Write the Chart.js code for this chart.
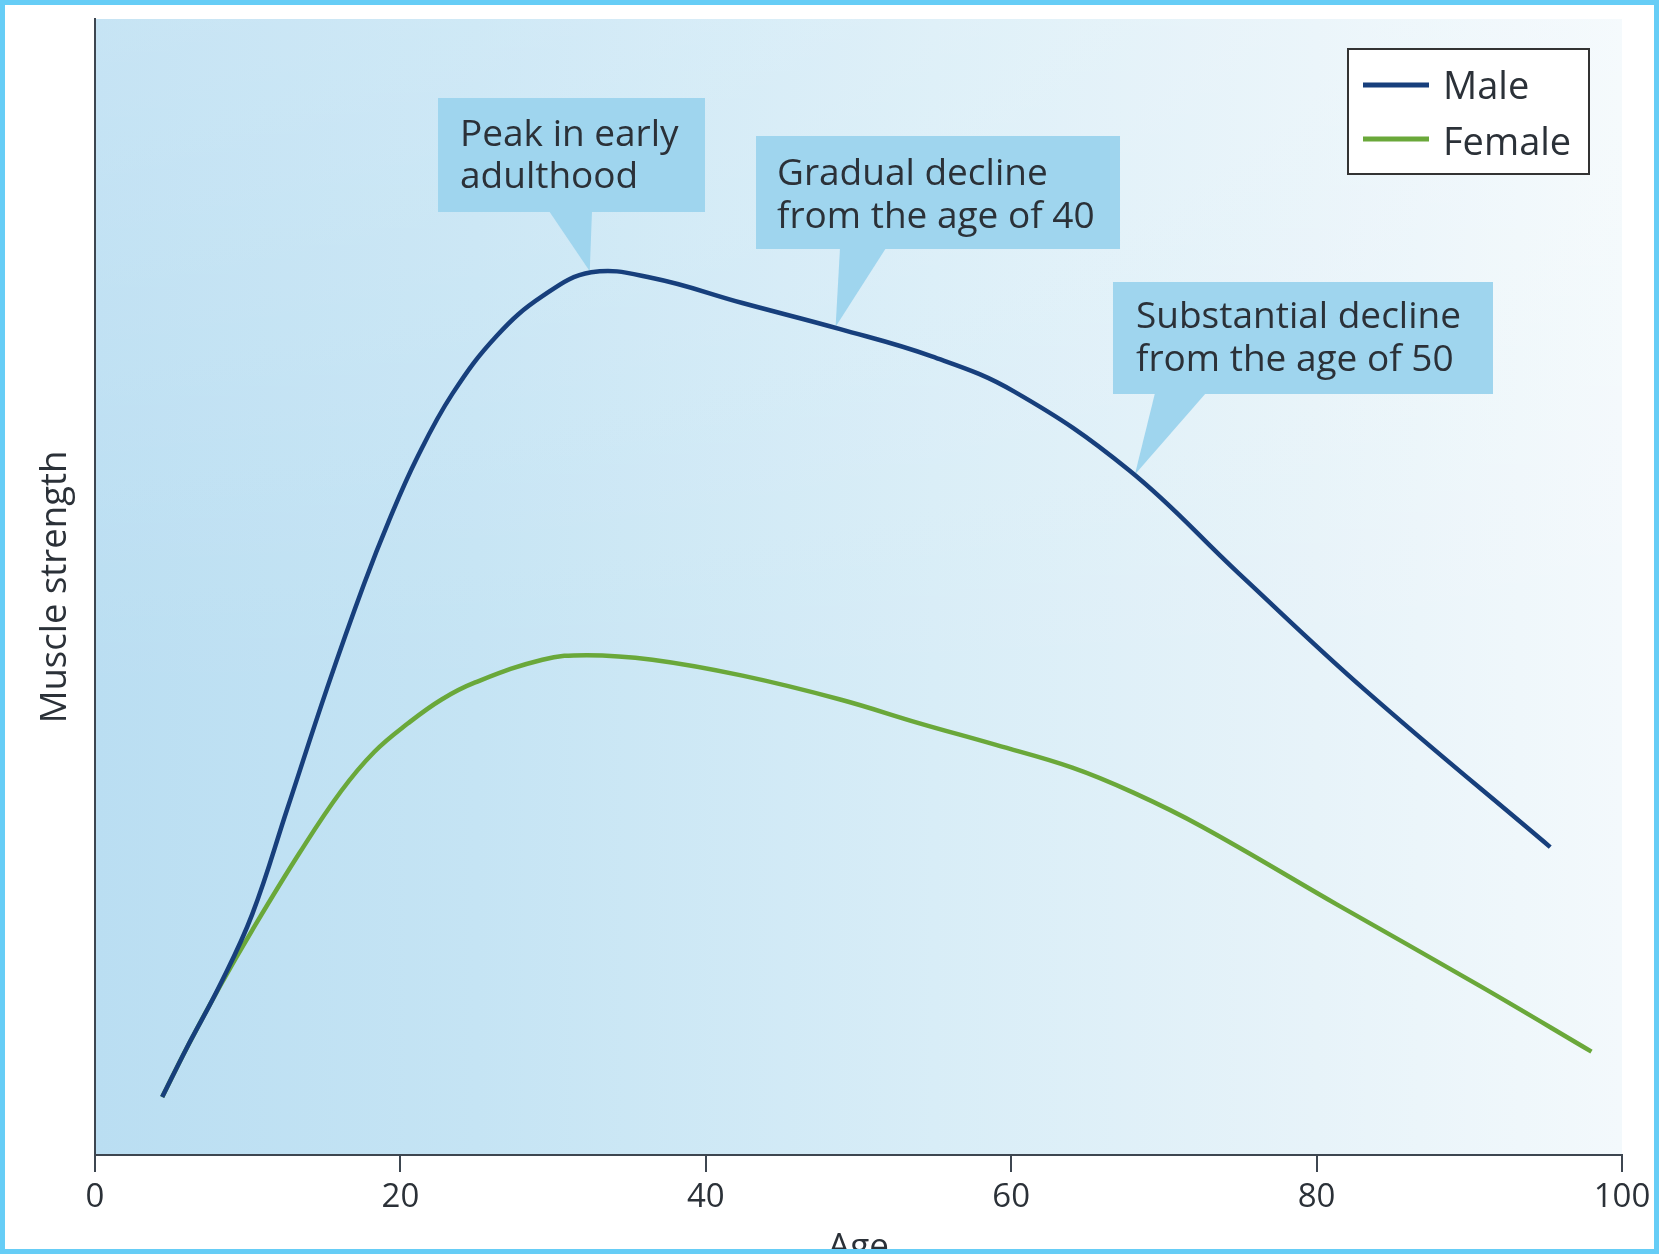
<!DOCTYPE html>
<html><head><meta charset="utf-8">
<script src="https://cdn.jsdelivr.net/npm/chart.js@4.4.1/dist/chart.umd.min.js"></script>
<style>
html,body{margin:0;padding:0;background:#fff;overflow:hidden}
#wrap{width:1659px;height:1254px;position:relative}
canvas{display:block}
</style></head>
<body><div id="wrap"><canvas id="c" width="1659" height="1254"></canvas></div>
<script>
// ---- data ----
const maleAges   = [4.4, 6.0, 8.2, 10.3, 12.6, 15.2, 17.6, 19.3, 21.1, 23.4, 26.3, 29.3, 32.5, 36.5, 42.4, 48.8, 54.8, 60.2, 67.7, 74.9, 83.2, 95.3];
const maleValues = [5.1, 9.4, 15.0, 21.2, 30.5, 41.1, 50.2, 56.0, 61.4, 67.0, 72.1, 75.6, 77.7, 77.2, 75.0, 72.7, 70.3, 67.2, 60.3, 51.2, 40.9, 27.1];
const femaleAges   = [4.4, 6.0, 8.2, 10.3, 13.4, 16.1, 18.3, 20.5, 22.7, 24.9, 29.3, 32.2, 36.5, 42.4, 48.8, 54.0, 59.0, 64.0, 68.0, 72.5, 81.4, 90.8, 98.0];
const femaleValues = [5.1, 9.4, 14.9, 19.8, 26.6, 32.0, 35.5, 38.0, 40.1, 41.6, 43.6, 44.0, 43.6, 42.2, 40.1, 38.0, 36.1, 34.1, 31.9, 28.9, 22.0, 14.8, 9.1];
const xTickValues = [0, 20, 40, 60, 80, 100];
const seriesLabels = ['Male', 'Female'];
const xTitle = 'Age';
const yTitle = 'Muscle strength';
const calloutTexts = [
  ['Peak in early', 'adulthood'],
  ['Gradual decline', 'from the age of 40'],
  ['Substantial decline', 'from the age of 50']
];
// point on the male curve each callout points to (age, strength)
const calloutAges   = [32.4, 48.5, 68.1];
const calloutValues = [77.8, 72.9, 59.9];

// ---- styling / layout ----
const FONT = "'Open Sans', 'DejaVu Sans', sans-serif";
const TEXT = '#2b3138';
const AXIS = '#3d4650';
const calloutBoxes = [
  {x:438, y:98,  w:267, h:114, tx:460,  base:[549,592], lines:[146,188]},
  {x:756, y:136, w:364, h:113, tx:777,  base:[840,886], lines:[185,228]},
  {x:1113,y:282, w:380, h:112, tx:1136, base:[1155,1206], lines:[328,371]}
];

const bgPlugin = {
  id:'bg',
  beforeDraw(chart){
    const {ctx, chartArea:a} = chart;
    ctx.save();
    const g = ctx.createLinearGradient(a.left,0,a.right,0);
    g.addColorStop(0,'#badef2');
    g.addColorStop(0.25,'#c5e4f4');
    g.addColorStop(0.55,'#d8edf7');
    g.addColorStop(0.8,'#e7f3f9');
    g.addColorStop(1,'#f3f9fc');
    ctx.fillStyle = g;
    ctx.fillRect(a.left, a.top, a.right-a.left, a.bottom-a.top);
    const v = ctx.createLinearGradient(0,a.top,0,a.bottom);
    v.addColorStop(0,'rgba(255,255,255,0.18)');
    v.addColorStop(0.6,'rgba(255,255,255,0.0)');
    ctx.fillStyle = v;
    ctx.fillRect(a.left, a.top, a.right-a.left, a.bottom-a.top);
    ctx.restore();
  },
  beforeDatasetsDraw(chart){
    const {ctx, scales:{x,y}} = chart;
    ctx.save();
    ctx.fillStyle = '#9fd5ee';
    calloutBoxes.forEach((b,i)=>{
      const tx = x.getPixelForValue(calloutAges[i]);
      const ty = y.getPixelForValue(calloutValues[i]);
      ctx.fillRect(b.x,b.y,b.w,b.h);
      ctx.beginPath();
      ctx.moveTo(b.base[0], b.y+b.h-1);
      ctx.lineTo(b.base[1], b.y+b.h-1);
      ctx.lineTo(tx, ty);
      ctx.closePath();
      ctx.fill();
    });
    ctx.fillStyle = TEXT;
    ctx.font = `37px ${FONT}`;
    ctx.textBaseline = 'alphabetic';
    ctx.textAlign = 'left';
    calloutBoxes.forEach((b,i)=>{
      calloutTexts[i].forEach((t,j)=>ctx.fillText(t, b.tx, b.lines[j]));
    });
    ctx.restore();
  },
  afterDraw(chart){
    const {ctx, scales:{x}} = chart;
    ctx.save();
    // legend
    ctx.fillStyle = '#ffffff';
    ctx.fillRect(1348,49,241,125);
    ctx.strokeStyle = '#333';
    ctx.lineWidth = 2;
    ctx.strokeRect(1348,49,241,125);
    const ys = [85,139];
    const textOff = [3,5];
    chart.data.datasets.forEach((d,i)=>{
      ctx.strokeStyle = d.borderColor;
      ctx.lineWidth = 5;
      ctx.beginPath();
      ctx.moveTo(1363, ys[i]); ctx.lineTo(1429, ys[i]);
      ctx.stroke();
      ctx.fillStyle = TEXT;
      ctx.font = `38px ${FONT}`;
      ctx.textBaseline = 'middle';
      ctx.fillText(d.label, 1443, ys[i]+textOff[i]);
    });
    // x title (cut by the frame)
    ctx.fillStyle = TEXT;
    ctx.font = `35px ${FONT}`;
    ctx.textAlign = 'center';
    ctx.textBaseline = 'alphabetic';
    ctx.fillText(xTitle, x.getPixelForValue(50), 1258);
    // frame
    ctx.strokeStyle = '#66cdf6';
    ctx.lineWidth = 10;
    ctx.strokeRect(0,0,1659,1254);
    ctx.restore();
  }
};

function start(){
  new Chart(document.getElementById('c'), {
    type:'line',
    data:{
      datasets:[
        {label:seriesLabels[0], data:maleAges.map((a,i)=>({x:a,y:maleValues[i]})),
         borderColor:'#173f7c', borderWidth:4.5, pointRadius:0, tension:0.4, fill:false},
        {label:seriesLabels[1], data:femaleAges.map((a,i)=>({x:a,y:femaleValues[i]})),
         borderColor:'#6aa83a', borderWidth:4.5, pointRadius:0, tension:0.4, fill:false}
      ]
    },
    options:{
      responsive:false, animation:false, devicePixelRatio:1,
      layout:{padding:{left:0, right:37, top:19, bottom:0}},
      plugins:{legend:{display:false}, tooltip:{enabled:false}},
      scales:{
        x:{type:'linear', min:0, max:100,
           afterBuildTicks:s=>{s.ticks = xTickValues.map(v=>({value:v}));},
           ticks:{font:{family:FONT, size:33}, color:TEXT, padding:6, maxRotation:0, autoSkip:false},
           grid:{drawOnChartArea:false, drawTicks:true, tickLength:17, tickWidth:2, tickColor:AXIS, lineWidth:2, color:AXIS},
           border:{display:true, color:AXIS, width:2},
           afterFit:s=>{s.height = 99;}
        },
        y:{min:0, max:100,
           ticks:{display:false},
           grid:{display:false},
           border:{display:true, color:AXIS, width:2},
           title:{display:true, text:yTitle, color:TEXT, font:{family:FONT, size:36.5}, padding:{top:34, bottom:0}},
           afterFit:s=>{s.width = 95;}
        }
      }
    },
    plugins:[bgPlugin]
  });
}
if (document.fonts && document.fonts.load) {
  Promise.all([document.fonts.load("37px 'Open Sans'")]).then(start, start);
} else start();
</script>
</body></html>
